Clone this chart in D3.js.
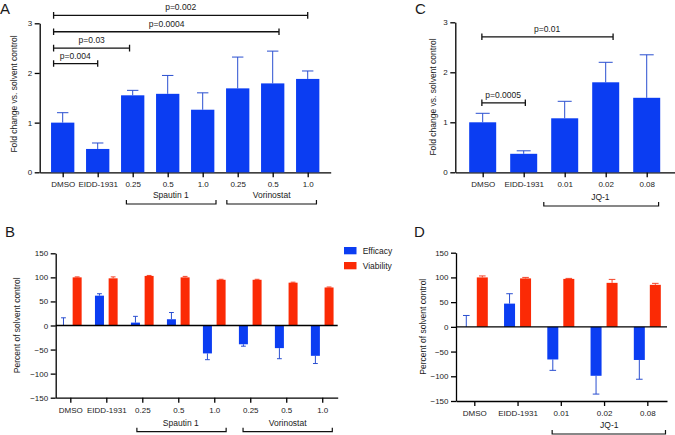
<!DOCTYPE html>
<html lang="en">
<head>
  <meta charset="UTF-8">
  <title>Fold change and percent of solvent control</title>
  <script src="https://d3js.org/d3.v7.min.js"></script>
  <style>
    html, body { margin: 0; padding: 0; background: #fff; }
    svg { display: block; }
    text { font-family: "Liberation Sans", Arial, sans-serif; fill: #1a1a1a; }
    .axis path, .axis line { stroke: #000; stroke-width: 1.3px; }
    .axis text { font-size: 8px; font-family: "Liberation Sans", Arial, sans-serif; fill: #1a1a1a; }
    .letter { font-size: 15px; }
    .title { font-size: 8.5px; }
    .note { font-size: 8.5px; }
  </style>
</head>
<body>
  <svg id="chart" width="675" height="435"></svg>

  <script>
    // panel A
    const labelsA = ["DMSO", "EIDD-1931", "0.25", "0.5", "1.0", "0.25", "0.5", "1.0"];
    const valuesA = [1.0, 0.47, 1.55, 1.58, 1.26, 1.69, 1.79, 1.88];
    const errorsA = [1.2, 0.59, 1.65, 1.95, 1.6, 2.32, 2.44, 2.04];
    // panel C
    const labelsC = ["DMSO", "EIDD-1931", "0.01", "0.02", "0.08"];
    const valuesC = [1.0, 0.37, 1.08, 1.8, 1.49];
    const errorsC = [1.18, 0.43, 1.42, 2.2, 2.35];
    // panel B
    const efficacyB = [0, 62, 6, 13, -58, -39, -47, -63];
    const efficacyErrB = [16, 66, 19, 27, -71, -43, -69, -79];
    const viabilityB = [100, 98, 103, 100, 95, 95, 89, 79];
    const viabilityErrB = [101, 101, 104, 102, 96, 96, 90, 80];
    // panel D
    const efficacyD = [0, 47, -66, -99, -67];
    const efficacyErrD = [23, 67, -88, -136, -106];
    const viabilityD = [100, 98, 97, 89, 85];
    const viabilityErrD = [103, 100, 98, 96, 88];

    const blue = "#0b3df2";
    const red = "#fb2a05";
    const blueErr = "#2a4fd0";
    const redErr = "#f4452a";

    const svg = d3.select("#chart");

    function makeAxes(o) {
      const g = svg.append("g");
      const x = d3.scaleLinear().domain(o.xDomain).range(o.xRange);
      const y = d3.scaleLinear().domain(o.yDomain).range(o.yRange);

      g.append("g").attr("class", "axis")
        .attr("transform", `translate(0,${o.yRange[0]})`)
        .call(d3.axisBottom(x).tickValues(d3.range(o.labels.length))
          .tickFormat(i => o.labels[i]).tickSize(5).tickSizeOuter(0).tickPadding(4.5));

      g.append("g").attr("class", "axis")
        .attr("transform", `translate(${o.xRange[0]},0)`)
        .call(d3.axisLeft(y).tickValues(o.yTicks).tickFormat(d3.format("d"))
          .tickSize(5).tickSizeOuter(0).tickPadding(2.5));

      svg.append("text").attr("class", "title")
        .attr("transform", `translate(${o.titleX},${o.titleY}) rotate(-90)`)
        .attr("text-anchor", "middle")
        .text(o.title);

      svg.append("text").attr("class", "letter")
        .attr("x", o.letterX).attr("y", o.letterY).text(o.letter);

      return { g, x, y };
    }

    function drawBars(p, values, errors, offset, width, color, errColor, capHalf) {
      const { g, x, y } = p;
      const idx = d3.range(values.length);

      g.selectAll(null).data(idx).join("line")
        .attr("x1", i => x(i + offset)).attr("x2", i => x(i + offset))
        .attr("y1", i => y(values[i])).attr("y2", i => y(errors[i]))
        .attr("stroke", errColor).attr("stroke-width", 1);

      g.selectAll(null).data(idx).join("line")
        .attr("x1", i => x(i + offset) - capHalf).attr("x2", i => x(i + offset) + capHalf)
        .attr("y1", i => y(errors[i])).attr("y2", i => y(errors[i]))
        .attr("stroke", errColor).attr("stroke-width", 1);

      g.selectAll(null).data(idx).join("rect")
        .attr("x", i => x(i + offset) - width / 2)
        .attr("width", width)
        .attr("y", i => Math.min(y(values[i]), y(0)))
        .attr("height", i => Math.abs(y(values[i]) - y(0)))
        .attr("fill", color);
    }

    function zeroLine(p) {
      const [a, b] = p.x.range();
      p.g.append("line").attr("x1", a).attr("x2", b)
        .attr("y1", p.y(0)).attr("y2", p.y(0))
        .attr("stroke", "#000").attr("stroke-width", 1.3);
    }

    // p-value bar, ends given in category units, height in y units
    function sigBar(p, from, to, at, label, labelAt) {
      const { x, y } = p;
      const yy = y(at);
      const path = d3.path();
      path.moveTo(x(from), yy - 3.3); path.lineTo(x(from), yy + 3.3);
      path.moveTo(x(from), yy); path.lineTo(x(to), yy);
      path.moveTo(x(to), yy - 3.3); path.lineTo(x(to), yy + 3.3);
      svg.append("path").attr("d", path.toString()).attr("fill", "none")
        .attr("stroke", "#111").attr("stroke-width", 1.3);
      svg.append("text").attr("class", "note").attr("text-anchor", "middle")
        .attr("x", x(labelAt)).attr("y", yy - 5).text(label);
    }

    // bracket under the axis, grouping some doses
    function groupBar(p, from, to, yy, label, labelAt) {
      const x = p.x;
      svg.append("path")
        .attr("d", `M${x(from)},${yy - 4}V${yy}H${x(to)}V${yy - 4}`)
        .attr("fill", "none").attr("stroke", "#111").attr("stroke-width", 1.2);
      svg.append("text").attr("class", "note").attr("text-anchor", "middle")
        .attr("x", x(labelAt)).attr("y", yy - 6).text(label);
    }

    // A
    const a = makeAxes({
      labels: labelsA, xDomain: [-0.657, 7.657], xRange: [39.7, 330.7],
      yDomain: [0, 3], yRange: [172.3, 23.3], yTicks: [0, 1, 2, 3],
      title: "Fold change vs. solvent control", titleX: 17, titleY: 94,
      letter: "A", letterX: 0, letterY: 13.6
    });
    drawBars(a, valuesA, errorsA, 0, 23.3, blue, blueErr, 5.7);
    sigBar(a, -0.26, 7, 3.16, "p=0.002", 3.37);
    sigBar(a, -0.26, 6.18, 2.83, "p=0.0004", 2.97);
    sigBar(a, -0.26, 1.91, 2.5, "p=0.03", 0.83);
    sigBar(a, -0.26, 1, 2.19, "p=0.004", 0.36);
    groupBar(a, 1.82, 4.38, 204, "Spautin 1", 3.09);
    groupBar(a, 4.69, 7.25, 204, "Vorinostat", 5.97);

    // C
    const c = makeAxes({
      labels: labelsC, xDomain: [-0.668, 4.69], xRange: [455.3, 675],
      yDomain: [0, 3], yRange: [172.3, 22.3], yTicks: [0, 1, 2, 3],
      title: "Fold change vs. solvent control", titleX: 436, titleY: 97,
      letter: "C", letterX: 415, letterY: 13.6
    });
    drawBars(c, valuesC, errorsC, 0, 27, blue, blueErr, 7);
    sigBar(c, -0.02, 3.18, 2.71, "p=0.01", 1.57);
    sigBar(c, -0.02, 1.04, 1.39, "p=0.0005", 0.5);
    groupBar(c, 1.49, 4.29, 206, "JQ-1", 2.87);

    // B
    const b = makeAxes({
      labels: labelsA, xDomain: [-0.406, 7.43], xRange: [55.7, 337.7],
      yDomain: [-150, 150], yRange: [397.7, 253.3], yTicks: d3.range(-150, 151, 50),
      title: "Percent of solvent control", titleX: 20, titleY: 325.3,
      letter: "B", letterX: 5, letterY: 237
    });
    drawBars(b, efficacyB, efficacyErrB, -0.19, 9, blue, blueErr, 2.4);
    drawBars(b, viabilityB, viabilityErrB, 0.19, 9, red, redErr, 2.4);
    zeroLine(b);
    groupBar(b, 1.85, 4.33, 431.7, "Spautin 1", 3.07);
    groupBar(b, 4.8, 7.28, 431.7, "Vorinostat", 6.04);

    // D
    const d = makeAxes({
      labels: labelsC, xDomain: [-0.423, 4.455], xRange: [456, 667],
      yDomain: [-150, 150], yRange: [401, 252.7], yTicks: d3.range(-150, 151, 50),
      title: "Percent of solvent control", titleX: 426, titleY: 326.7,
      letter: "D", letterX: 414, letterY: 237
    });
    drawBars(d, efficacyD, efficacyErrD, -0.185, 11, blue, blueErr, 3.3);
    drawBars(d, viabilityD, viabilityErrD, 0.185, 11, red, redErr, 3.3);
    zeroLine(d);
    groupBar(d, 1.8, 4.42, 434, "JQ-1", 3.12);

    // legend
    const legendNames = ["Efficacy", "Viability"];
    const legendColors = [blue, red];
    const legend = svg.append("g").attr("transform", "translate(344,247)");
    legend.selectAll("rect").data(legendNames).join("rect")
      .attr("x", 0).attr("y", (n, i) => i * 15)
      .attr("width", 12.5).attr("height", 7.3)
      .attr("fill", (n, i) => legendColors[i]);
    legend.selectAll("text").data(legendNames).join("text")
      .attr("class", "note").attr("x", 18.7).attr("y", (n, i) => 6.7 + i * 15)
      .text(n => n);
  </script>
</body>
</html>
